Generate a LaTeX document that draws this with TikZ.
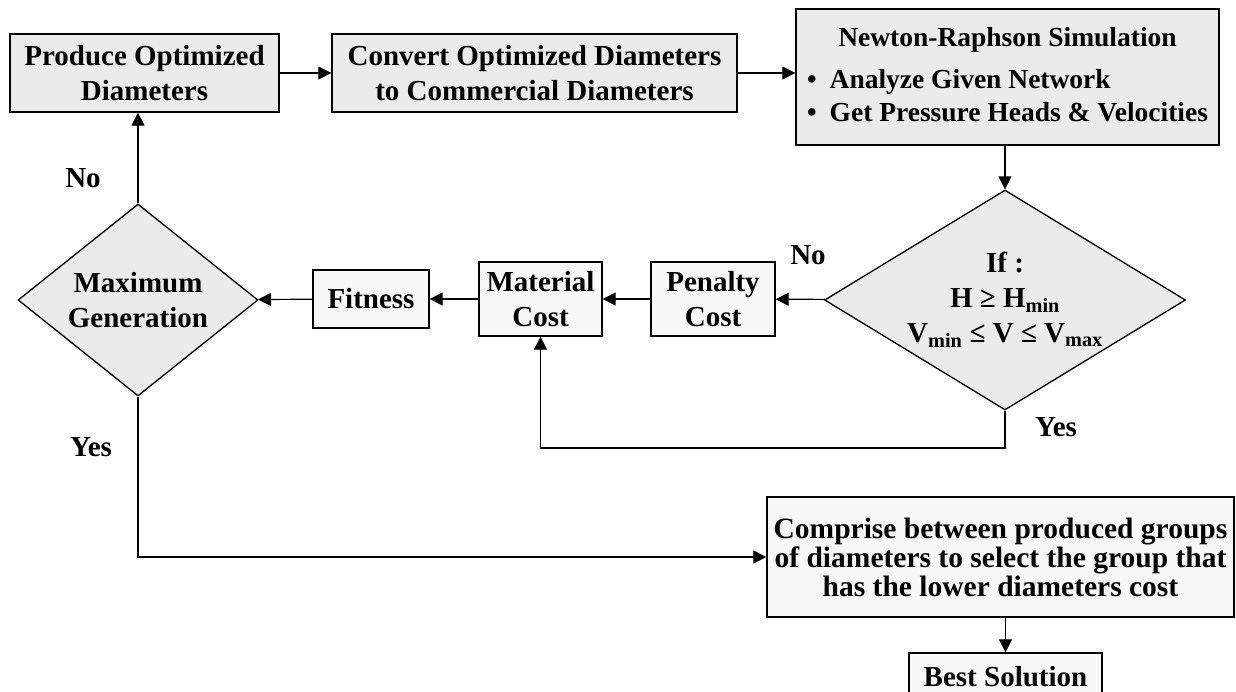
\documentclass[tikz,border=0pt]{standalone}
\usepackage{fontspec}
\setmainfont{Liberation Serif}
\usetikzlibrary{shapes.geometric,arrows.meta}
\definecolor{boxgray}{HTML}{EBEBEB}
\definecolor{boxlight}{HTML}{F8F8F8}

\begin{document}
\begin{tikzpicture}[x=1pt, y=-1pt, font=\fontsize{29}{35}\selectfont\bfseries,
                main/.style = {draw, line width=1.3pt, fill=boxgray, align=center, inner sep=0pt},
                plain/.style = {main, fill=boxlight},
                cond/.style = {main, diamond},
                arr/.style = {-{Triangle[length=13pt,width=13pt]}, line width=1.2pt},
                lbl/.style = {inner sep=0pt}]
                \useasboundingbox (0,0) rectangle (1236,691);
                \node[main, minimum width=269pt, minimum height=78pt] (1) at (144.5,73) {Produce Optimized\\Diameters};
                \node[main, minimum width=405pt, minimum height=78pt] (2) at (534.5,73) {Convert Optimized Diameters\\to Commercial Diameters};
                \node[main, minimum width=423pt, minimum height=136pt, font=\fontsize{27.5}{33}\selectfont\bfseries] (3) at (1007.5,77)
                    {\begin{tabular}{@{}l@{}}
                     \multicolumn{1}{c}{Newton-Raphson Simulation}\\[9pt]
                     \textbullet\hspace{13pt}Analyze Given Network\\
                     \textbullet\hspace{13pt}Get Pressure Heads \& Velocities
                     \end{tabular}};
                \node[cond, aspect=1.64, minimum width=361pt, minimum height=220pt] (4) at (1005,300)
                    {If :\\H ≥ H\textsubscript{min}\\V\textsubscript{min} ≤ V ≤ V\textsubscript{max}};
                \node[plain, minimum width=124pt, minimum height=74pt] (5) at (713,299) {Penalty\\Cost};
                \node[plain, minimum width=123pt, minimum height=74pt] (6) at (540.5,299) {Material\\Cost};
                \node[plain, minimum width=116pt, minimum height=58pt] (7) at (371,299) {Fitness};
                \node[cond, aspect=1.25, minimum width=240pt, minimum height=192pt] (8) at (138,300) {Maximum\\Generation};
                \node[plain, minimum width=467pt, minimum height=120pt, font=\fontsize{29.5}{29}\selectfont\bfseries] (9) at (1000.5,557)
                    {Comprise between produced groups\\of diameters to select the group that\\has the lower diameters cost};
                \node[plain, minimum width=193pt, minimum height=48pt] (10) at (1005.5,677) {Best Solution};
                \node[lbl] (no1) at (808,255) {No};
                \node[lbl] (no2) at (83,178) {No};
                \node[lbl] (yes1) at (1056,427) {Yes};
                \node[lbl] (yes2) at (91,447) {Yes};
                \coordinate (c1) at (1005,448);
                \draw[arr] (1) to (2);
                \draw[arr] (2.east) to (2.east -| 3.west);
                \draw[arr] (4.north |- 3.south) to (4.north);
                \draw[arr] (4) to (5);
                \draw[arr] (5) to (6);
                \draw[arr] (6) to (7);
                \draw[arr] (7) to (8);
                \draw[arr] (8.north) to (8.north |- 1.south);
                \draw[arr] (4.south) -- (c1) -| (6.south);
                \draw[arr] (8.south) |- (9.west);
                \draw[arr] (9.south -| 10.north) to (10.north);
            \end{tikzpicture}
\end{document}
